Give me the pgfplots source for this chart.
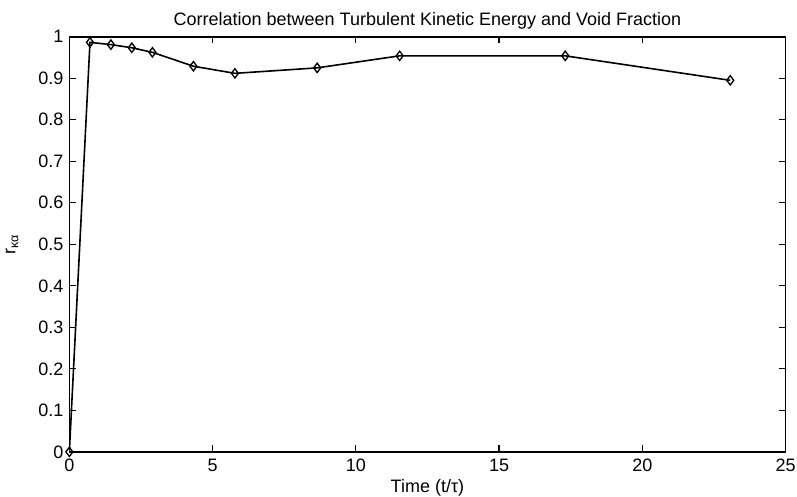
\documentclass[border=0pt]{standalone}
\usepackage{fontspec}
\setmainfont{Liberation Sans}
\usepackage{pgfplots}
\pgfplotsset{compat=1.18}
\begin{document}
\begin{tikzpicture}
\useasboundingbox (-52pt,-33.2pt) rectangle (545.6pt,338.8pt);
\begin{axis}[
  at={(0,0)}, anchor=south west,
  scale only axis, width=537pt, height=311.25pt,
  xmin=0, xmax=25, ymin=0, ymax=1,
  xtick={0,5,...,25}, ytick={0,0.1,...,1.0},
  yticklabels={0,0.1,0.2,0.3,0.4,0.5,0.6,0.7,0.8,0.9,1},
  tick pos=both, tick align=inside,
  major tick length=5pt,
  axis line style={line width=1.2pt},
  every tick/.style={black, line width=1pt},
  /pgf/number format/assume math mode=true,
  tick label style={font=\fontsize{13.5}{15}\selectfont},
  xticklabel style={yshift=-2pt},
  yticklabel style={xshift=-1pt},
  label style={font=\fontsize{13.5}{15}\selectfont},
  title style={font=\fontsize{13.5}{15}\selectfont, yshift=-4pt},
  title={Correlation between Turbulent Kinetic Energy and Void Fraction},
  xlabel={Time (t/τ)},
  ylabel={r\textsubscript{κα}},
  xlabel style={yshift=1pt},
  ylabel style={yshift=8pt},
]
\addplot[black, line width=1.2pt, mark=diamond, mark size=3.5pt, mark options={solid, line width=1pt, fill=white}] coordinates {
(0,0) (0.72,0.9865) (1.45,0.981) (2.18,0.9735) (2.9,0.9624) (4.33,0.929) (5.78,0.9118) (8.65,0.925) (11.53,0.954) (17.31,0.954) (23.07,0.895)
};
\end{axis}
\end{tikzpicture}
\end{document}
